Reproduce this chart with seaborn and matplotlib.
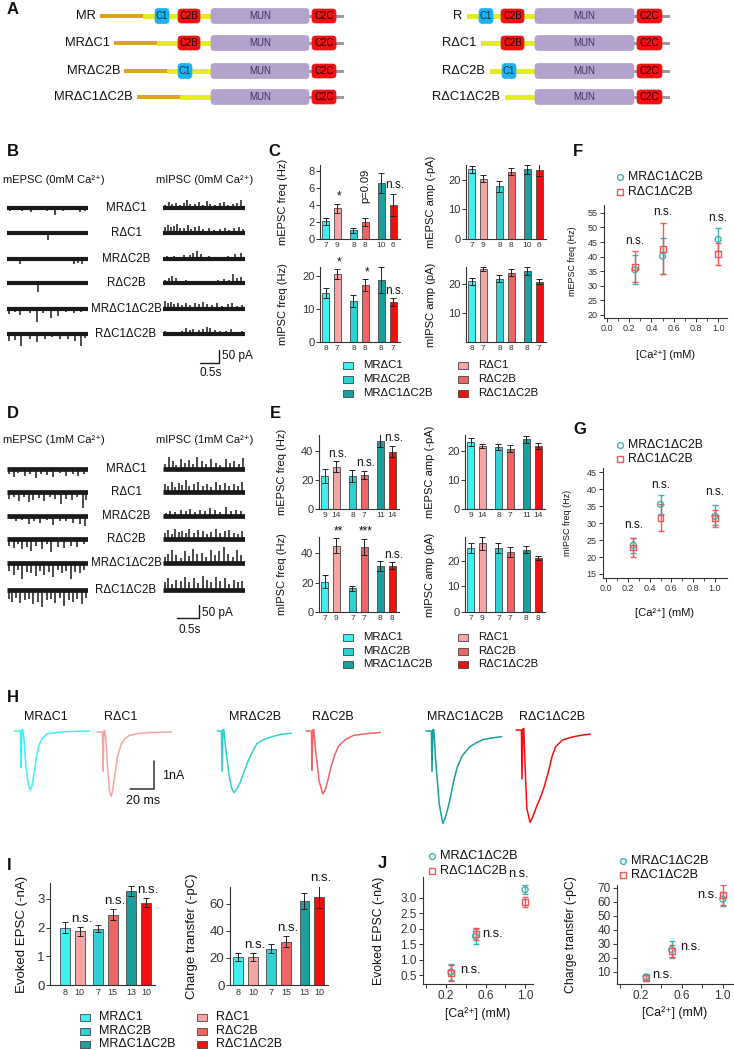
import numpy as np
import pandas as pd
import seaborn as sns
import matplotlib.pyplot as plt
from matplotlib.patches import FancyBboxPatch, Rectangle

sns.set_theme(style="ticks")
plt.rcParams["font.family"] = ["Liberation Sans", "DejaVu Sans"]
plt.rcParams["axes.edgecolor"] = "#333333"
plt.rcParams["axes.linewidth"] = 0.8
plt.rcParams["xtick.color"] = "#333333"
plt.rcParams["ytick.color"] = "#333333"
plt.rcParams["text.color"] = "#111111"
plt.rcParams["axes.labelcolor"] = "#111111"

# ---------------- data ----------------
groups = ["MRΔC1", "RΔC1", "MRΔC2B", "RΔC2B", "MRΔC1ΔC2B", "RΔC1ΔC2B"]
pairs = ["ΔC1", "ΔC2B", "ΔC1ΔC2B"]
fams = ["MR", "R"]
colors = {"MRΔC1": "#3EF0F0", "MRΔC2B": "#2CD2D2", "MRΔC1ΔC2B": "#1A9E9E",
          "RΔC1": "#F5A5A5", "RΔC2B": "#EF6464", "RΔC1ΔC2B": "#F40F0F"}
teal = "#3BB3B3"
red = "#F05858"

# C: 0 mM Ca
c_mepsc_freq = [2.1, 3.6, 1.05, 2.0, 6.6, 4.0]
c_mepsc_freq_err = [0.4, 0.5, 0.3, 0.45, 1.2, 1.3]
c_mepsc_amp = [23.5, 20.3, 17.8, 22.8, 23.5, 23.2]
c_mepsc_amp_err = [1.3, 1.2, 1.8, 1.2, 1.5, 2.0]
c_mepsc_n = [7, 9, 8, 8, 10, 6]
c_mipsc_freq = [14.8, 20.6, 12.5, 17.3, 18.7, 12.0]
c_mipsc_freq_err = [1.5, 1.6, 1.8, 1.8, 4.0, 1.2]
c_mipsc_amp = [21.0, 25.2, 21.8, 24.0, 24.5, 20.8]
c_mipsc_amp_err = [1.2, 0.6, 1.2, 1.1, 1.4, 0.8]
c_mipsc_n = [8, 7, 8, 8, 8, 7]

# E: 1 mM Ca
e_mepsc_freq = [22.7, 29.0, 22.5, 23.5, 47.0, 39.5]
e_mepsc_freq_err = [4.8, 3.8, 4.2, 3.0, 4.5, 4.0]
e_mepsc_amp = [23.0, 21.7, 21.3, 20.7, 24.0, 21.7]
e_mepsc_amp_err = [1.3, 0.8, 1.0, 1.2, 1.3, 1.0]
e_mepsc_n = [9, 14, 8, 7, 11, 14]
e_mipsc_freq = [20.5, 45.0, 16.0, 44.0, 31.5, 31.5]
e_mipsc_freq_err = [4.5, 5.0, 2.0, 5.5, 3.5, 2.5]
e_mipsc_amp = [25.0, 27.0, 25.0, 23.5, 24.5, 21.0]
e_mipsc_amp_err = [2.0, 2.5, 2.0, 2.0, 1.3, 0.8]
e_mipsc_n = [7, 9, 7, 7, 8, 8]

# I: evoked
i_epsc = [2.0, 1.87, 1.96, 2.45, 3.27, 2.87]
i_epsc_err = [0.2, 0.15, 0.13, 0.18, 0.16, 0.17]
i_charge = [21, 21, 27, 32, 62, 65]
i_charge_err = [3, 3, 3, 4, 6, 8]
i_n = [8, 10, 7, 15, 13, 10]

# F, G, J: Ca dependence
ca = [0.25, 0.5, 1.0]
f_mr = [35.5, 40.2, 45.9]
f_mr_err = [5.0, 6.3, 3.9]
f_r = [36.5, 42.7, 41.0]
f_r_err = [5.3, 8.7, 3.8]
g_mr = [23.5, 35.5, 32.0]
g_mr_err = [2.2, 2.8, 3.2]
g_r = [22.8, 31.6, 31.6]
g_r_err = [2.8, 4.0, 2.2]
j_mr = [0.6, 1.75, 3.27]
j_mr_err = [0.25, 0.25, 0.15]
j_r = [0.57, 1.83, 2.87]
j_r_err = [0.27, 0.18, 0.17]
jq_mr = [6.5, 26, 62]
jq_mr_err = [2, 6, 5]
jq_r = [5.5, 25, 65]
jq_r_err = [2, 4.5, 7]

# A: constructs
left_names = ["MR", "MRΔC1", "MRΔC2B", "MRΔC1ΔC2B"]
right_names = ["R", "RΔC1", "RΔC2B", "RΔC1ΔC2B"]
left_has_c1 = [True, False, True, False]
left_has_c2b = [True, True, False, False]

# B / D miniature events (time s, amplitude pA), one list per row
b_epsc_t = [[0.08, 0.25, 0.4, 0.62, 0.85, 1.05, 1.25, 1.48, 1.7, 1.92, 2.05],
            [0.3, 0.7, 1.08, 1.5, 1.9],
            [0.12, 0.35, 0.8, 1.3, 1.75, 1.88, 1.98],
            [0.2, 0.5, 0.82, 1.4, 1.7],
            [0.05, 0.2, 0.35, 0.6, 0.78, 0.95, 1.15, 1.35, 1.55, 1.75, 1.95],
            [0.05, 0.22, 0.38, 0.6, 0.8, 1.0, 1.18, 1.4, 1.6, 1.8, 1.95, 2.05]]
b_epsc_a = [[12, 8, 10, 15, 9, 12, 25, 10, 8, 14, 10],
            [6, 5, 28, 6, 5],
            [6, 20, 6, 6, 18, 14, 20],
            [8, 6, 35, 6, 8],
            [18, 12, 22, 15, 50, 15, 35, 28, 12, 16, 12],
            [25, 22, 45, 18, 30, 20, 12, 18, 20, 25, 45, 15]]
b_ipsc_t = [[0.05, 0.15, 0.25, 0.33, 0.45, 0.55, 0.62, 0.72, 0.85, 0.95, 1.05, 1.15, 1.25, 1.38, 1.5, 1.6, 1.72, 1.85, 1.95, 2.05],
            [0.05, 0.12, 0.2, 0.28, 0.36, 0.45, 0.55, 0.65, 0.75, 0.85, 0.95, 1.05, 1.2, 1.35, 1.5, 1.62, 1.75, 1.88, 2.0, 2.1],
            [0.1, 0.3, 0.45, 0.55, 0.7, 0.8, 0.9, 1.0, 1.2, 1.45, 1.7, 1.9, 2.05],
            [0.05, 0.15, 0.25, 0.35, 0.6, 0.75, 1.0, 1.25, 1.45, 1.6, 1.75, 1.85, 1.95, 2.05],
            [0.05, 0.12, 0.2, 0.3, 0.4, 0.5, 0.6, 0.72, 0.85, 0.95, 1.05, 1.15, 1.28, 1.42, 1.55, 1.7, 1.82, 1.95, 2.08],
            [0.05, 0.2, 0.35, 0.5, 0.6, 0.7, 0.8, 0.95, 1.05, 1.15, 1.25, 1.38, 1.5, 1.65, 1.8, 1.95, 2.08]]
b_ipsc_a = [[10, 25, 15, 20, 12, 18, 30, 14, 16, 22, 12, 28, 15, 10, 18, 24, 12, 14, 20, 30],
            [25, 30, 22, 28, 35, 20, 18, 30, 15, 22, 26, 14, 18, 12, 16, 20, 12, 18, 22, 15],
            [10, 12, 8, 15, 14, 22, 30, 18, 10, 8, 12, 20, 22],
            [12, 20, 28, 18, 12, 8, 6, 5, 10, 14, 12, 35, 18, 22],
            [30, 22, 28, 18, 25, 14, 22, 16, 25, 18, 28, 20, 15, 22, 12, 18, 25, 10, 14],
            [10, 8, 6, 12, 24, 16, 20, 14, 18, 28, 22, 16, 12, 10, 18, 8, 10]]
d_epsc_t = [[0.05, 0.15, 0.25, 0.4, 0.52, 0.65, 0.78, 0.9, 1.05, 1.2, 1.35, 1.5, 1.62, 1.75],
            [0.05, 0.15, 0.28, 0.38, 0.5, 0.6, 0.72, 0.85, 0.98, 1.1, 1.22, 1.35, 1.48, 1.6, 1.72, 1.8],
            [0.08, 0.2, 0.35, 0.5, 0.62, 0.75, 0.9, 1.05, 1.2, 1.35, 1.5, 1.65, 1.78],
            [0.05, 0.15, 0.25, 0.35, 0.45, 0.55, 0.65, 0.8, 0.9, 1.0, 1.15, 1.3, 1.45, 1.6, 1.75],
            [0.05, 0.15, 0.25, 0.35, 0.45, 0.55, 0.65, 0.75, 0.85, 0.95, 1.05, 1.15, 1.25, 1.35, 1.45, 1.55, 1.65, 1.75],
            [0.05, 0.12, 0.2, 0.3, 0.4, 0.5, 0.6, 0.7, 0.8, 0.9, 1.0, 1.1, 1.2, 1.3, 1.4, 1.5, 1.6, 1.7, 1.8]]
d_epsc_a = [[20, 30, 15, 25, 18, 35, 20, 22, 30, 15, 28, 18, 25, 20],
            [25, 20, 35, 18, 40, 30, 22, 35, 20, 28, 45, 25, 30, 20, 60, 30],
            [12, 18, 15, 30, 20, 25, 15, 35, 20, 18, 25, 30, 40],
            [25, 35, 20, 40, 30, 45, 25, 38, 20, 50, 30, 35, 25, 30, 20],
            [30, 45, 25, 60, 35, 40, 50, 30, 45, 35, 55, 25, 40, 30, 60, 35, 40, 25],
            [35, 45, 30, 50, 40, 35, 55, 45, 65, 40, 35, 50, 30, 60, 40, 45, 35, 55, 30]]
d_ipsc_t = [[0.05, 0.14, 0.22, 0.3, 0.4, 0.5, 0.58, 0.68, 0.78, 0.88, 0.98, 1.08, 1.2, 1.3, 1.42, 1.52, 1.62, 1.72, 1.82],
            [0.04, 0.12, 0.2, 0.28, 0.36, 0.44, 0.52, 0.6, 0.7, 0.8, 0.9, 1.0, 1.1, 1.2, 1.3, 1.4, 1.5, 1.6, 1.7, 1.8],
            [0.06, 0.16, 0.28, 0.4, 0.52, 0.62, 0.72, 0.84, 0.95, 1.06, 1.18, 1.3, 1.42, 1.55, 1.66, 1.78],
            [0.04, 0.12, 0.2, 0.28, 0.36, 0.44, 0.52, 0.6, 0.7, 0.8, 0.9, 1.0, 1.1, 1.2, 1.3, 1.4, 1.5, 1.6, 1.7, 1.8],
            [0.04, 0.12, 0.2, 0.3, 0.4, 0.5, 0.58, 0.68, 0.78, 0.88, 0.98, 1.08, 1.18, 1.28, 1.38, 1.48, 1.58, 1.68, 1.78],
            [0.04, 0.12, 0.2, 0.3, 0.4, 0.5, 0.6, 0.7, 0.8, 0.9, 1.0, 1.1, 1.2, 1.3, 1.4, 1.5, 1.6, 1.7, 1.8]]
d_ipsc_a = [[20, 45, 30, 15, 40, 25, 35, 20, 45, 30, 18, 38, 25, 15, 40, 22, 30, 18, 42],
            [30, 25, 40, 20, 35, 28, 45, 22, 30, 38, 25, 32, 20, 40, 28, 35, 22, 30, 25, 38],
            [12, 18, 15, 22, 20, 28, 15, 25, 18, 30, 22, 15, 35, 20, 25, 18],
            [25, 35, 20, 40, 28, 30, 22, 38, 25, 35, 30, 20, 28, 40, 22, 30, 35, 25, 20, 30],
            [25, 35, 50, 30, 20, 45, 28, 55, 35, 40, 25, 50, 30, 45, 60, 35, 25, 50, 30],
            [30, 45, 25, 40, 35, 50, 30, 45, 28, 55, 40, 30, 50, 35, 45, 25, 40, 30, 35]]

# H: evoked EPSC traces (ms, nA)
h_traces = {
    "MRΔC1": ([-6, -0.5, 0, 0.8, 1.5, 2.5, 4, 6, 7.5, 9, 11, 13, 15, 18, 22, 30, 40, 57],
              [0, 0, -1.3, 0.05, 0.05, -0.3, -1.2, -1.9, -2.1, -2.0, -1.5, -0.9, -0.5, -0.25, -0.1, -0.05, -0.02, 0]),
    "RΔC1": ([-5, -0.5, 0, 0.8, 1.5, 2.5, 4, 5.5, 6.7, 8, 10, 12, 15, 18, 22, 30, 40, 57],
             [0, 0, -1.4, 0.05, 0.05, -0.3, -1.4, -2.1, -2.3, -2.1, -1.5, -0.9, -0.45, -0.25, -0.12, -0.05, -0.02, 0]),
    "MRΔC2B": ([-4, -0.5, 0, 0.8, 1.5, 3, 6, 8, 10, 12, 15, 18, 21, 24, 29, 35, 42, 49, 58],
               [0, 0, -1.45, 0.05, 0.05, -0.6, -1.6, -2.05, -2.2, -2.1, -1.85, -1.5, -1.15, -0.86, -0.45, -0.3, -0.2, -0.12, -0.08]),
    "RΔC2B": ([-5, -0.5, 0, 0.8, 1.5, 3, 6, 9, 11, 13, 16, 19, 22, 28, 35, 45, 57],
              [0, 0, -1.4, 0.05, 0.05, -0.7, -1.8, -2.25, -2.1, -1.8, -1.25, -0.85, -0.55, -0.3, -0.15, -0.1, -0.05]),
    "MRΔC1ΔC2B": ([-5, -0.5, 0, 0.8, 1.5, 3, 6, 9, 11, 13, 15, 18, 21, 25, 31, 37, 43, 50, 58],
                  [0, 0, -1.45, 0.05, 0.05, -1.0, -2.6, -3.3, -3.1, -2.8, -2.45, -1.8, -1.3, -0.9, -0.58, -0.42, -0.3, -0.25, -0.2]),
    "RΔC1ΔC2B": ([-5, -0.5, 0, 0.8, 1.5, 2.5, 4, 6.7, 9, 12, 15, 18, 22, 25, 28, 34, 42, 50, 57],
                 [0, 0, -1.75, 0.05, 0.05, -1.2, -2.8, -3.3, -3.1, -2.75, -2.45, -2.1, -1.5, -0.95, -0.6, -0.35, -0.25, -0.18, -0.15]),
}

CA = "[Ca²⁺] (mM)"

# ---------------- figure ----------------
W, H = 734, 1050
fig = plt.figure(figsize=(7.34, 10.5), dpi=100)
ov = fig.add_axes([0, 0, 1, 1])
ov.set_xlim(0, W)
ov.set_ylim(H, 0)
ov.axis("off")


def px_ax(l, t, r, b):
    return fig.add_axes([l / W, 1 - b / H, (r - l) / W, (b - t) / H])


for lab, x, y in [("A", 7, 10), ("B", 7, 152), ("C", 268, 152), ("F", 573, 152),
                  ("D", 7, 414), ("E", 270, 414), ("G", 573, 430), ("H", 7, 697),
                  ("I", 7, 865), ("J", 378, 863)]:
    ov.text(x, y, lab, fontsize=12, fontweight="bold", va="center", ha="left")

# ---------------- A: domain schematic ----------------
gold, yellow, blue, dom_red, mun, grey = "#D9A520", "#E4EE1E", "#1CB2EE", "#EE1212", "#B3A2CC", "#9C9C9C"
rows_a = [16, 43, 71, 97]


def domain(x0, x1, y, fc, label, tc, h=14):
    ov.add_patch(FancyBboxPatch((x0, y - h / 2), x1 - x0, h, boxstyle="round,pad=0,rounding_size=3.5",
                                fc=fc, ec=fc, lw=0.5, zorder=3))
    ov.text((x0 + x1) / 2, y, label, ha="center", va="center", fontsize=7, color=tc, zorder=4)


def tail(y, mun_x0, mun_x1, c2c_x0, c2c_x1):
    ov.add_patch(Rectangle((mun_x1 - 2, y - 1.5), c2c_x1 - mun_x1 + 10, 3, fc=grey, lw=0, zorder=2))
    domain(mun_x0, mun_x1, y, mun, "MUN", "#3d3260", h=15)
    domain(c2c_x0, c2c_x1, y, dom_red, "C2C", "#2a0000")


gold_start = [100, 114, 124, 137]
for k, name in enumerate(left_names):
    y = rows_a[k]
    g0 = gold_start[k]
    ov.text(g0 - 4, y, name, ha="right", va="center", fontsize=9.3)
    ov.add_patch(Rectangle((g0, y - 2.2), 43, 4.4, fc=gold, lw=0, zorder=2))
    ov.add_patch(Rectangle((g0 + 43, y - 2.5), 211 - g0 - 43, 5, fc=yellow, lw=0, zorder=2))
    if left_has_c1[k] and left_has_c2b[k]:
        domain(155, 169, y, blue, "C1", "#10305a", h=15)
    elif left_has_c1[k]:
        domain(178, 192, y, blue, "C1", "#10305a", h=15)
    if left_has_c2b[k]:
        domain(178, 200, y, dom_red, "C2B", "#2a0000")
    tail(y, 211, 309, 312, 336)

yellow_start = [467, 481, 490, 505]
for k, name in enumerate(right_names):
    y = rows_a[k]
    y0 = yellow_start[k]
    ov.text(y0 - 5, y, name, ha="right", va="center", fontsize=9.3)
    ov.add_patch(Rectangle((y0, y - 2.5), 535 - y0, 5, fc=yellow, lw=0, zorder=2))
    if left_has_c1[k] and left_has_c2b[k]:
        domain(479, 493, y, blue, "C1", "#10305a", h=15)
    elif left_has_c1[k]:
        domain(502, 516, y, blue, "C1", "#10305a", h=15)
    if left_has_c2b[k]:
        domain(501, 524, y, dom_red, "C2B", "#2a0000")
    tail(y, 535, 634, 637, 662)

# ---------------- B / D: miniature traces ----------------


def trace_col(l, r, t, b, xmax, rows_px, ts, amps, sign, pxpa=0.26, lw_base=3.0):
    ax = px_ax(l, t, r, b)
    y0 = rows_px[0]
    ax.set_xlim(0, xmax)
    ax.set_ylim(-(b - y0) / pxpa, (y0 - t) / pxpa)
    ax.axis("off")
    for k in range(len(ts)):
        base = -(rows_px[k] - y0) / pxpa
        ax.hlines(base, 0, xmax, color="k", lw=lw_base)
        ax.vlines(ts[k], base, base + sign * np.array(amps[k]), color="k", lw=1.1)
    return ax


rows_b = [208, 233, 259, 283, 309, 334]
rows_d = [469, 492, 516, 539, 563, 590]
label_order = ["MRΔC1", "RΔC1", "MRΔC2B", "RΔC2B", "MRΔC1ΔC2B", "RΔC1ΔC2B"]

ov.text(3, 180, "mEPSC (0mM Ca²⁺)", fontsize=8, va="center")
ov.text(156, 180, "mIPSC (0mM Ca²⁺)", fontsize=8, va="center")
ov.text(3, 440, "mEPSC (1mM Ca²⁺)", fontsize=8, va="center")
ov.text(156, 440, "mIPSC (1mM Ca²⁺)", fontsize=8, va="center")
for k, name in enumerate(label_order):
    ov.text(126, rows_b[k], name, ha="center", va="center", fontsize=8.3)
    ov.text(126, rows_d[k], name, ha="center", va="center", fontsize=8.3)

trace_col(7, 88, 193, 385, 2.13, rows_b, b_epsc_t, b_epsc_a, -1)
axb = trace_col(163, 245, 193, 385, 2.16, rows_b, b_ipsc_t, b_ipsc_a, 1)
axb.plot([0.97, 1.47, 1.47], [-596, -596, -546], color="k", lw=1.0, clip_on=False)
axb.text(1.55, -569, "50 pA", fontsize=8.5, va="center", clip_on=False)
axb.text(0.97, -635, "0.5s", fontsize=8.5, va="center", clip_on=False)

trace_col(7, 88, 455, 640, 1.84, rows_d, d_epsc_t, d_epsc_a, -1, lw_base=3.4)
axd = trace_col(163, 245, 455, 640, 1.86, rows_d, d_ipsc_t, d_ipsc_a, 1, lw_base=3.4)
axd.plot([0.32, 0.82, 0.82], [-573, -573, -523], color="k", lw=1.0, clip_on=False)
axd.text(0.89, -554, "50 pA", fontsize=8.5, va="center", clip_on=False)
axd.text(0.35, -619, "0.5s", fontsize=8.5, va="center", clip_on=False)

# ---------------- bar panels (C, E, I) ----------------
pair_of = ["ΔC1", "ΔC1", "ΔC2B", "ΔC2B", "ΔC1ΔC2B", "ΔC1ΔC2B"]
fam_of = ["MR", "R"] * 3


def bar_panel(rect, vals, errs, ns, xlim, ylim, yticks, ylabel, lab_x, notes,
              w=0.84, gap=0.4, fs_tick=8, fs_lab=8, fs_n=6, fs_note=8.5):
    ax = px_ax(*rect)
    df = pd.DataFrame({"pair": pair_of, "fam": fam_of, "val": vals})
    sns.barplot(data=df, x="pair", y="val", hue="fam", order=pairs, hue_order=fams,
                width=w, gap=gap, errorbar=None, legend=False, ax=ax,
                edgecolor="#4a4a4a", linewidth=0.6)
    bars = sorted(ax.patches, key=lambda p: p.get_x())
    centers = []
    for bar, g in zip(bars, groups):
        bar.set_facecolor(colors[g])
        centers.append(bar.get_x() + bar.get_width() / 2)
    ax.errorbar(centers, vals, yerr=errs, fmt="none", ecolor="#222222",
                elinewidth=0.7, capsize=2, capthick=0.7)
    ax.set_xlim(*xlim)
    ax.set_ylim(*ylim)
    ax.set_yticks(yticks)
    ax.set_xticks(centers)
    ax.set_xticklabels([str(n) for n in ns])
    ax.tick_params(axis="x", length=0, labelsize=fs_n, pad=2)
    ax.tick_params(axis="y", direction="out", length=3, width=0.7, labelsize=fs_tick, pad=1)
    ax.set_xlabel("")
    ax.set_ylabel(ylabel, fontsize=fs_lab)
    ax.yaxis.set_label_coords(lab_x, 0.5)
    sns.despine(ax=ax)
    for idx, yv, s in notes:
        if s == "p=0.09":
            ax.text(centers[idx], yv, s, rotation=90, ha="center", va="center", fontsize=8, clip_on=False)
        else:
            ax.text(centers[idx] + 0.06, yv, s, ha="center", va="bottom", fontsize=fs_note, clip_on=False)
    return ax


xl_l = (-0.41, 2.46)
bar_panel((320, 165, 400, 239), c_mepsc_freq, c_mepsc_freq_err, c_mepsc_n, xl_l, (0, 8.7),
          [0, 2, 4, 6, 8], "mEPSC freq (Hz)", -0.4,
          [(1, 4.3, "*"), (3, 6.2, "p=0.09"), (5, 5.6, "n.s.")])
bar_panel((320, 267, 400, 342), c_mipsc_freq, c_mipsc_freq_err, c_mipsc_n, xl_l, (0, 22.7),
          [0, 10, 20], "mIPSC freq (Hz)", -0.4,
          [(1, 22.4, "*"), (3, 19.3, "*"), (5, 13.6, "n.s.")])
bar_panel((466, 165, 546, 239), c_mepsc_amp, c_mepsc_amp_err, c_mepsc_n, xl_l, (0, 25),
          [0, 10, 20], "mEPSC amp (-pA)", -0.375, [])
bar_panel((466, 267, 546, 342), c_mipsc_amp, c_mipsc_amp_err, c_mipsc_n, xl_l, (0, 25.9),
          [10, 20], "mIPSC amp (pA)", -0.375, [])

bar_panel((319, 435, 399, 509), e_mepsc_freq, e_mepsc_freq_err, e_mepsc_n, xl_l, (0, 51),
          [0, 20, 40], "mEPSC freq (Hz)", -0.4,
          [(1, 33.5, "n.s."), (3, 27.5, "n.s."), (5, 44.5, "n.s.")])
bar_panel((319, 537, 399, 612), e_mipsc_freq, e_mipsc_freq_err, e_mipsc_n, xl_l, (0, 51),
          [0, 20, 40], "mIPSC freq (Hz)", -0.4,
          [(1, 50.5, "**"), (3, 50.5, "***"), (5, 35, "n.s.")])
bar_panel((465, 435, 545, 509), e_mepsc_amp, e_mepsc_amp_err, e_mepsc_n, xl_l, (0, 25.5),
          [0, 10, 20], "mEPSC amp (-pA)", -0.375, [])
bar_panel((465, 537, 545, 612), e_mipsc_amp, e_mipsc_amp_err, e_mipsc_n, xl_l, (0, 29.4),
          [0, 10, 20], "mIPSC amp (pA)", -0.375, [])

bar_panel((50, 883, 155, 985), i_epsc, i_epsc_err, i_n, (-0.67, 2.49), (0, 3.55),
          [0, 1, 2, 3], "Evoked EPSC (-nA)", -0.21,
          [(1, 2.08, "n.s."), (3, 2.7, "n.s."), (5, 3.1, "n.s.")],
          w=0.88, gap=0.32, fs_tick=9.5, fs_lab=9.5, fs_n=6.5, fs_note=9.5)
bar_panel((230, 887, 328, 985), i_charge, i_charge_err, i_n, (-0.47, 2.49), (0, 72.5),
          [0, 20, 40, 60], "Charge transfer (-pC)", -0.33,
          [(1, 25.5, "n.s."), (3, 37.5, "n.s."), (5, 74.5, "n.s.")],
          w=0.88, gap=0.32, fs_tick=9.5, fs_lab=9.5, fs_n=6.5, fs_note=9.5)


def bar_legend(x_box, rows_y, col_dx, text_dx, fs):
    for col, fam in enumerate(fams):
        names = [g for g in groups if g.startswith(fam + "Δ")]
        for r, g in enumerate(names):
            x = x_box + col * col_dx
            ov.add_patch(Rectangle((x, rows_y[r] - 3.5), 10, 7, fc=colors[g], ec="#444444", lw=0.6))
            ov.text(x + text_dx, rows_y[r], g, va="center", fontsize=fs)


bar_legend(343, [365, 379, 393], 115, 20, 8.2)
bar_legend(343, [637, 651, 664], 115, 20, 8.2)
bar_legend(80, [1017, 1031, 1044], 117, 19, 9)

# ---------------- H: evoked traces ----------------
h_pos = {"MRΔC1": (21, 731), "RΔC1": (103, 732), "MRΔC2B": (222, 731),
         "RΔC2B": (312, 731), "MRΔC1ΔC2B": (432, 731), "RΔC1ΔC2B": (522, 730)}
h_label_x = {"MRΔC1": 46, "RΔC1": 121, "MRΔC2B": 255, "RΔC2B": 333,
             "MRΔC1ΔC2B": 465, "RΔC1ΔC2B": 552}
for name, (tt, ii) in h_traces.items():
    ax0, base = h_pos[name]
    ax = px_ax(ax0 - 6 * 1.2, base - 0.5 * 28, ax0 + 62 * 1.2, base + 3.6 * 28)
    ax.set_xlim(-6, 62)
    ax.set_ylim(-3.6, 0.5)
    ax.axis("off")
    sns.lineplot(x=tt, y=ii, color=colors[name], lw=1.1, ax=ax, sort=False)
    ov.text(h_label_x[name], 717, name, ha="center", va="center", fontsize=9)
    if name == "RΔC1":
        ax.plot([22.5, 42.5, 42.5], [-2.04, -2.04, -1.04], color="#333333", lw=1.1)
        ax.text(49, -1.57, "1nA", fontsize=9, va="center", clip_on=False)
        ax.text(33, -2.45, "20 ms", fontsize=9, ha="center", va="center", clip_on=False)

# ---------------- F, G, J: Ca dependence ----------------


def ca_panel(rect, mr, mr_e, r, r_e, xlim, ylim, yticks, ylabel, lab_x, xlab_y,
             xticks, xticklabels, fs_tick, fs_lab, fs_x, notes, minor=True):
    ax = px_ax(*rect)
    ax.errorbar(ca, mr, yerr=mr_e, fmt="none", ecolor=teal, elinewidth=1.0, capsize=2.2, capthick=1.0, zorder=2)
    ax.errorbar(ca, r, yerr=r_e, fmt="none", ecolor=red, elinewidth=1.0, capsize=2.2, capthick=1.0, zorder=2)
    df = pd.DataFrame({"ca": ca * 2, "val": mr + r, "fam": ["MR"] * 3 + ["R"] * 3})
    sns.scatterplot(data=df, x="ca", y="val", hue="fam", style="fam", markers={"MR": "o", "R": "s"},
                    palette={"MR": teal, "R": red}, s=18, legend=False, ax=ax, zorder=3)
    sc = ax.collections[-1]
    sc.set_edgecolors(sc.get_facecolors())
    sc.set_facecolors("none")
    sc.set_linewidths(1.0)
    ax.set_xlim(*xlim)
    ax.set_ylim(*ylim)
    ax.set_xticks(xticks)
    ax.set_xticklabels(xticklabels)
    if minor:
        ax.set_xticks([0.1, 0.3, 0.5, 0.7, 0.9], minor=True)
    ax.set_yticks(yticks)
    ax.tick_params(axis="both", which="major", direction="out", length=3, width=0.7, labelsize=fs_tick, pad=1.5)
    ax.tick_params(axis="x", which="minor", direction="out", length=2, width=0.6)
    ax.set_ylabel(ylabel, fontsize=fs_lab)
    ax.yaxis.set_label_coords(lab_x, 0.5)
    ax.set_xlabel(CA, fontsize=fs_x)
    ax.xaxis.set_label_coords(0.5, xlab_y)
    sns.despine(ax=ax)
    for x, y, s, ha in notes:
        ax.text(x, y, s, ha=ha, va="center", fontsize=fs_x + 0.5, clip_on=False)
    return ax


ticks01 = [0, 0.2, 0.4, 0.6, 0.8, 1.0]
lab01 = ["0.0", "0.2", "0.4", "0.6", "0.8", "1.0"]
ca_panel((604, 205, 727, 318), f_mr, f_mr_err, f_r, f_r_err, (-0.027, 1.08), (18.97, 57.7),
         list(range(20, 56, 5)), "mEPSC freq (Hz)", -0.22, -0.28, ticks01, lab01, 6.5, 6.5, 8,
         [(0.25, 45.5, "n.s.", "center"), (0.5, 55.2, "n.s.", "center"), (1.0, 53.2, "n.s.", "center")])
ca_panel((603, 468, 727, 578), g_mr, g_mr_err, g_r, g_r_err, (-0.028, 1.11), (13.82, 46.2),
         list(range(15, 46, 5)), "mIPSC freq (Hz)", -0.25, -0.27, ticks01, lab01, 6.5, 6.5, 8,
         [(0.25, 29.4, "n.s.", "center"), (0.5, 41.2, "n.s.", "center"), (1.0, 39.1, "n.s.", "center")])
lab_j = ["", "0.2", "", "0.6", "", "1.0"]
ca_panel((423, 877, 533, 984), j_mr, j_mr_err, j_r, j_r_err, (-0.033, 1.08), (0.21, 3.68),
         [0.5, 1.0, 1.5, 2.0, 2.5, 3.0], "Evoked EPSC (-nA)", -0.345, -0.22, ticks01, lab_j, 8.5, 8.8, 8.8,
         [(0.34, 0.66, "n.s.", "left"), (0.565, 1.83, "n.s.", "left"), (0.93, 3.78, "n.s.", "center")],
         minor=False)
ca_panel((617, 885, 733, 984), jq_mr, jq_mr_err, jq_r, jq_r_err, (-0.034, 1.10), (1.4, 72.1),
         list(range(10, 71, 10)), "Charge transfer (-pC)", -0.345, -0.22, ticks01, lab_j, 8.5, 8.8, 8.8,
         [(0.31, 7.8, "n.s.", "left"), (0.58, 27.8, "n.s.", "left"), (0.95, 65, "n.s.", "right")],
         minor=False)


def ca_legend(x, y1, y2, fs):
    ov.plot([x], [y1], marker="o", ms=4.2, mfc="none", mec=teal, mew=1.0)
    ov.plot([x], [y2], marker="s", ms=4.2, mfc="none", mec=red, mew=1.0)
    ov.text(x + 8, y1, "MRΔC1ΔC2B", va="center", fontsize=fs)
    ov.text(x + 8, y2, "RΔC1ΔC2B", va="center", fontsize=fs)


ca_legend(620, 177, 192, 8.8)
ca_legend(620, 445, 459, 8.8)
ca_legend(432, 856, 871, 9.2)
ca_legend(623, 861, 875, 9.2)

fig.savefig("out.png", dpi=100, facecolor="white")
